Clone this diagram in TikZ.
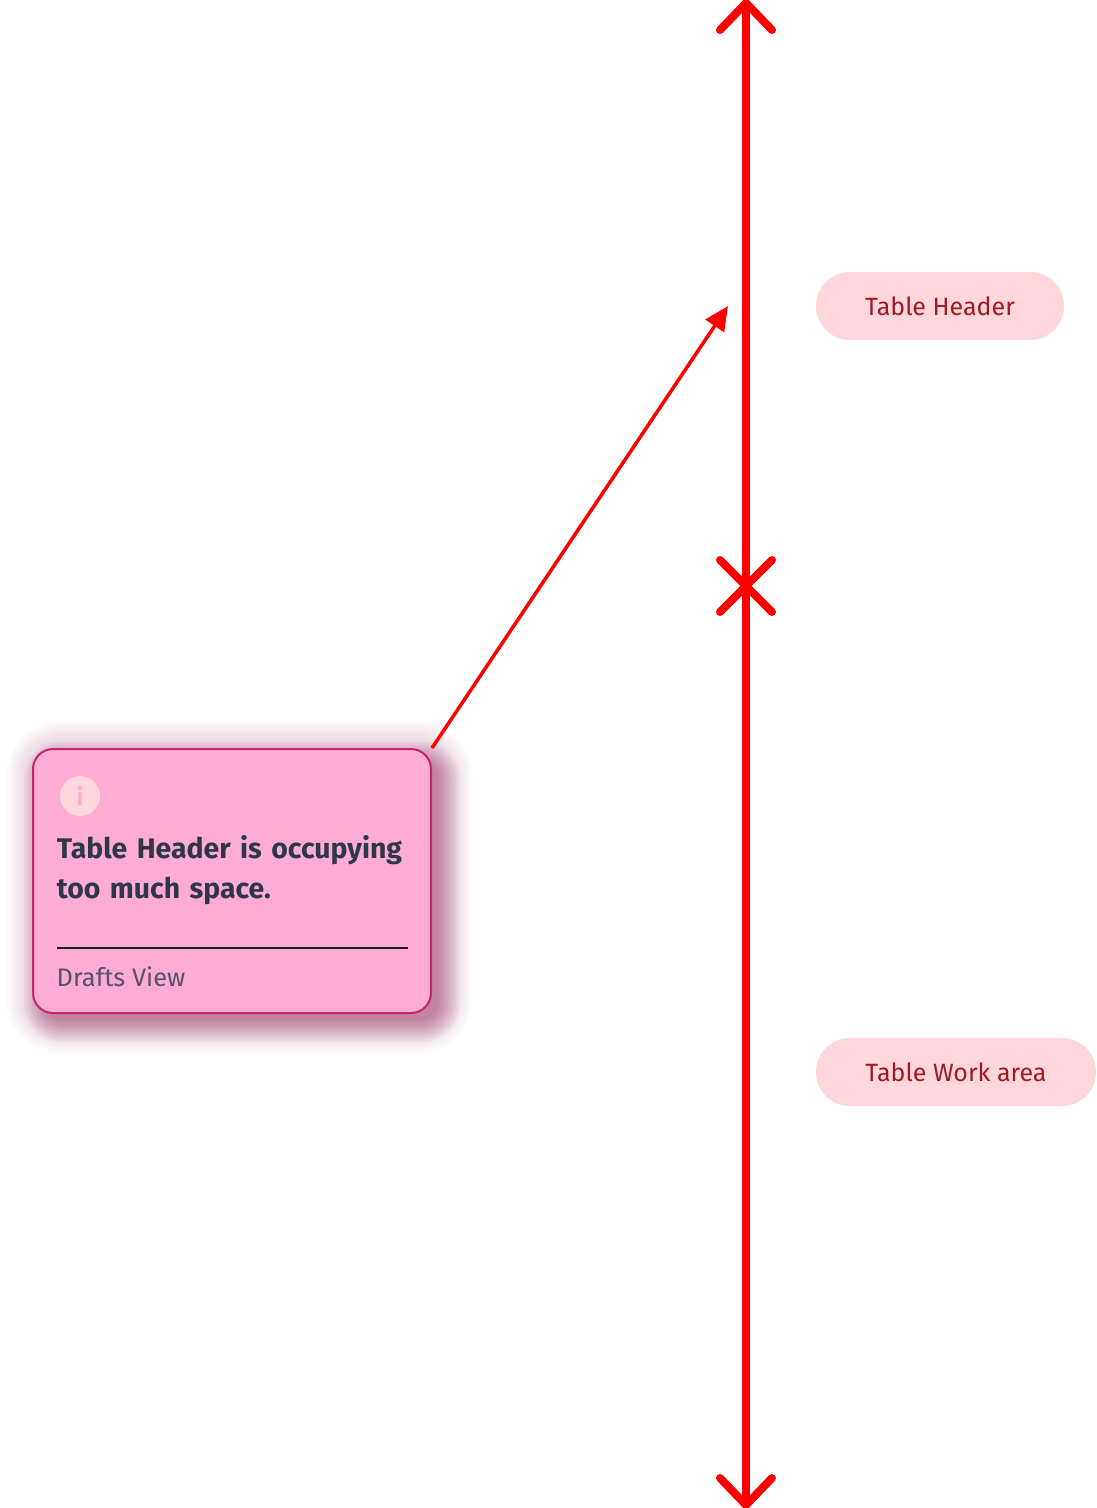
\documentclass[tikz,border=0pt]{standalone}
\usepackage{fontspec}
\setmainfont{Fira Sans}
\usepackage{xcolor}
\usetikzlibrary{
	arrows.meta,
	positioning,
	}
\definecolor{axisred}{HTML}{FF0000}
\definecolor{pillpink}{HTML}{FFD6DB}
\definecolor{pilltext}{HTML}{A2191F}
\definecolor{cardpink}{HTML}{FFACD5}
\definecolor{cardedge}{HTML}{C9246E}
\definecolor{cardglow}{HTML}{8A1850}
\definecolor{cardtitle}{HTML}{2E3748}
\definecolor{cardsub}{HTML}{55516A}
\tikzset{
	axisline/.style={draw=axisred, line width=8pt, line cap=round},
	axistip/.style={{Straight Barb[length=27pt,width=52pt,round]}-{Straight Barb[length=27pt,width=52pt,round]}},
	pill/.style={fill=pillpink, text=pilltext, rounded corners=33.9pt, minimum height=68pt, inner xsep=0pt, font=\fontsize{25}{28}\selectfont},
	card/.style={fill=cardpink, draw=cardedge, line width=2pt, rounded corners=20pt, minimum width=398pt, minimum height=264pt},
}
\begin{document}
\begin{tikzpicture}[x=1pt, y=-1pt]
	\useasboundingbox (0,0) rectangle (1096,1508);

	\foreach \s [evaluate=\s as \rr using 20+\s] in {34,32,...,0}
		\fill[cardglow, fill opacity=0.014, rounded corners=\rr pt] ({40-\s},{755-\s}) rectangle ({438+\s},{1020+\s});
	\foreach \s [evaluate=\s as \rr using 20+\s] in {18,16,...,-4}
		\fill[cardglow, fill opacity=0.04, rounded corners=\rr pt] ({42-\s},{759-\s}) rectangle ({442+\s},{1024+\s});

	\node[card] (card) at (232,881) {};
	\node[circle, fill=pillpink, minimum size=40pt, inner sep=0pt, text=cardpink, font=\bfseries\fontsize{24}{24}\selectfont] (info) at (80,796) {i};
	\node[anchor=north west, inner sep=0pt, text width=370pt, text=cardtitle, font=\bfseries\fontsize{28.4}{40}\selectfont, below right=25pt and -9pt of info.south west] (title) {Table Header is occupying\\too much space.};
	\coordinate (rulea) at (57,947.5);
	\coordinate (ruleb) at (408,947.5);
	\node[anchor=base west, inner sep=0pt, text=cardsub, font=\fontsize{25.4}{28}\selectfont] (drafts) at (56.5,986) {Drafts View};
	\draw[line width=2pt, draw=black!90] (rulea) -- (ruleb);

	\coordinate (top) at (746,-1);
	\coordinate (cross) at (746,586);
	\coordinate (bottom) at (746,1509);
	\coordinate (crossa) at (720,560);
	\coordinate (crossb) at (772,612);
	\coordinate (crossc) at (772,560);
	\coordinate (crossd) at (720,612);
	\draw[axisline, axistip] (top) -- (bottom);
	\draw[axisline] (crossa) -- (crossb);
	\draw[axisline] (crossc) -- (crossd);

	\coordinate (point) at (728,306);
	\draw[-{Triangle[length=24pt,width=22pt]}, draw=axisred, fill=axisred, line width=3.5pt] (card.north east) -- (point);

	\node[pill, minimum width=248pt] (header) at (940,306) {Table Header};
	\node[pill, minimum width=280pt] (work) at (956,1072) {Table Work area};
\end{tikzpicture}
\end{document}
